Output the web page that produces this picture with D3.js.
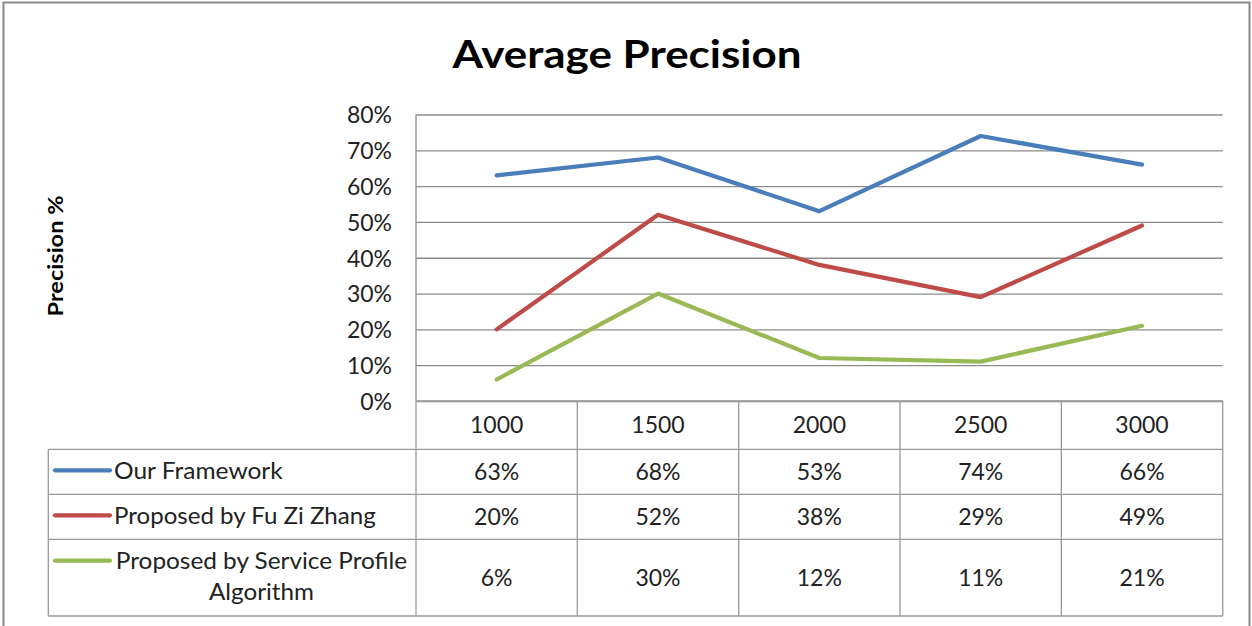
<!DOCTYPE html>
<html>
<head>
<meta charset="utf-8">
<script src="https://cdn.jsdelivr.net/npm/d3@7"></script>
<style>
  html, body { margin: 0; padding: 0; background: #fff; }
  svg { display: block; font-family: Lato, "Open Sans", sans-serif; }
</style>
</head>
<body>
<svg id="chart" width="1252" height="626"></svg>
<script>
// Sample sizes along the x axis
const categories = ["1000", "1500", "2000", "2500", "3000"];

// Average precision per method (percent)
const ourFramework = [63, 68, 53, 74, 66];
const fuZiZhang = [20, 52, 38, 29, 49];
const serviceProfile = [6, 30, 12, 11, 21];

const seriesNames = [["Our Framework"], ["Proposed by Fu Zi Zhang"], ["Proposed by Service Profile", "Algorithm"]];
const seriesValues = [ourFramework, fuZiZhang, serviceProfile];
const seriesColors = ["#4a7ebb", "#be4b48", "#98b954"];

const yTicks = [0, 10, 20, 30, 40, 50, 60, 70, 80];

const svg = d3.select("#chart");

// outer frame
svg.append("rect")
  .attr("x", 3.5).attr("y", 2.5)
  .attr("width", 1246).attr("height", 660)
  .attr("fill", "#fff").attr("stroke", "#8a8a8a").attr("stroke-width", 2);

const plotLeft = 416, plotRight = 1222.7, plotTop = 114.5, plotBottom = 401;

const x = d3.scaleBand().domain(categories).range([plotLeft, plotRight]);
const y = d3.scaleLinear().domain([0, 80]).range([plotBottom, plotTop]);

const gridColor = "#8c8c8c";

// title
svg.append("text")
  .attr("x", 627).attr("y", 68)
  .attr("text-anchor", "middle")
  .attr("font-size", 39).attr("font-weight", 700)
  .attr("textLength", 349).attr("lengthAdjust", "spacingAndGlyphs")
  .attr("fill", "#000")
  .text("Average Precision");

// y axis title
svg.append("text")
  .attr("transform", "translate(63,256) rotate(-90)")
  .attr("text-anchor", "middle")
  .attr("font-size", 20).attr("font-weight", 700)
  .attr("textLength", 121).attr("lengthAdjust", "spacingAndGlyphs")
  .attr("fill", "#000")
  .text("Precision %");

// gridlines + y axis
const yAxis = d3.axisLeft(y)
  .tickValues(yTicks)
  .tickSize(-(plotRight - plotLeft))
  .tickPadding(24)
  .tickFormat(d => d + "%");

const gy = svg.append("g")
  .attr("transform", `translate(${plotLeft},0)`)
  .call(yAxis);
gy.select(".domain").remove();
gy.selectAll(".tick line").attr("stroke", gridColor).attr("stroke-width", 1.3);
gy.selectAll(".tick text")
  .attr("font-size", 23)
  .attr("font-family", "Lato, 'Open Sans', sans-serif")
  .attr("fill", "#222")
  .attr("dy", "0.36em");

// vertical axis line
svg.append("line")
  .attr("x1", plotLeft).attr("x2", plotLeft)
  .attr("y1", plotTop).attr("y2", plotBottom)
  .attr("stroke", gridColor).attr("stroke-width", 1.3);

// series lines
const line = d3.line()
  .x((d, i) => x(categories[i]) + x.bandwidth() / 2)
  .y(d => y(d));

seriesValues.forEach((vals, s) => {
  svg.append("path")
    .datum(vals)
    .attr("d", line)
    .attr("fill", "none")
    .attr("stroke", seriesColors[s])
    .attr("stroke-width", 4.2)
    .attr("stroke-linejoin", "round")
    .attr("stroke-linecap", "round");
});

// data table
const tableLeft = 48.3;
const rowEdges = [401, 449.3, 494.3, 539.3, 616];
const tableColor = "#999";

const tbl = svg.append("g");
// horizontal rules
rowEdges.forEach((ry, i) => {
  tbl.append("line")
    .attr("x1", i === 0 ? plotLeft : tableLeft).attr("x2", plotRight)
    .attr("y1", ry).attr("y2", ry)
    .attr("stroke", tableColor).attr("stroke-width", 1.3);
});
// vertical rules
tbl.append("line")
  .attr("x1", tableLeft).attr("x2", tableLeft)
  .attr("y1", rowEdges[1]).attr("y2", rowEdges[4])
  .attr("stroke", tableColor).attr("stroke-width", 1.3);
categories.forEach(c => {
  tbl.append("line")
    .attr("x1", x(c)).attr("x2", x(c))
    .attr("y1", rowEdges[0]).attr("y2", rowEdges[4])
    .attr("stroke", tableColor).attr("stroke-width", 1.3);
});
tbl.append("line")
  .attr("x1", plotRight).attr("x2", plotRight)
  .attr("y1", rowEdges[0]).attr("y2", rowEdges[4])
  .attr("stroke", tableColor).attr("stroke-width", 1.3);

// category header row
categories.forEach(c => {
  tbl.append("text")
    .attr("x", x(c) + x.bandwidth() / 2)
    .attr("y", (rowEdges[0] + rowEdges[1]) / 2)
    .attr("dy", "0.36em")
    .attr("text-anchor", "middle")
    .attr("font-size", 23).attr("fill", "#222")
    .text(c);
});

// value rows with legend keys
const labelWidths = [[168.7], [261.7], [291.3, 105]];
seriesValues.forEach((vals, s) => {
  const top = rowEdges[s + 1], bottom = rowEdges[s + 2];
  const cy = (top + bottom) / 2;
  vals.forEach((v, i) => {
    tbl.append("text")
      .attr("x", x(categories[i]) + x.bandwidth() / 2)
      .attr("y", cy)
      .attr("dy", "0.36em")
      .attr("text-anchor", "middle")
      .attr("font-size", 23).attr("fill", "#222")
      .text(v + "%");
  });

  const lines = seriesNames[s];
  const lh = 31;
  const firstY = cy - (lines.length - 1) * lh / 2 - 1.5;
  tbl.append("line")
    .attr("x1", 55).attr("x2", 110)
    .attr("y1", firstY).attr("y2", firstY)
    .attr("stroke", seriesColors[s])
    .attr("stroke-width", 4.2)
    .attr("stroke-linecap", "round");

  lines.forEach((t, k) => {
    const w = labelWidths[s][k];
    const txt = tbl.append("text")
      .attr("y", firstY + k * lh)
      .attr("dy", "0.36em")
      .attr("font-size", 23).attr("fill", "#222")
      .attr("textLength", w).attr("lengthAdjust", "spacingAndGlyphs")
      .text(t);
    if (lines.length > 1) {
      txt.attr("x", 261.5).attr("text-anchor", "middle");
    } else {
      txt.attr("x", 114).attr("text-anchor", "start");
    }
  });
});
</script>
</body>
</html>
